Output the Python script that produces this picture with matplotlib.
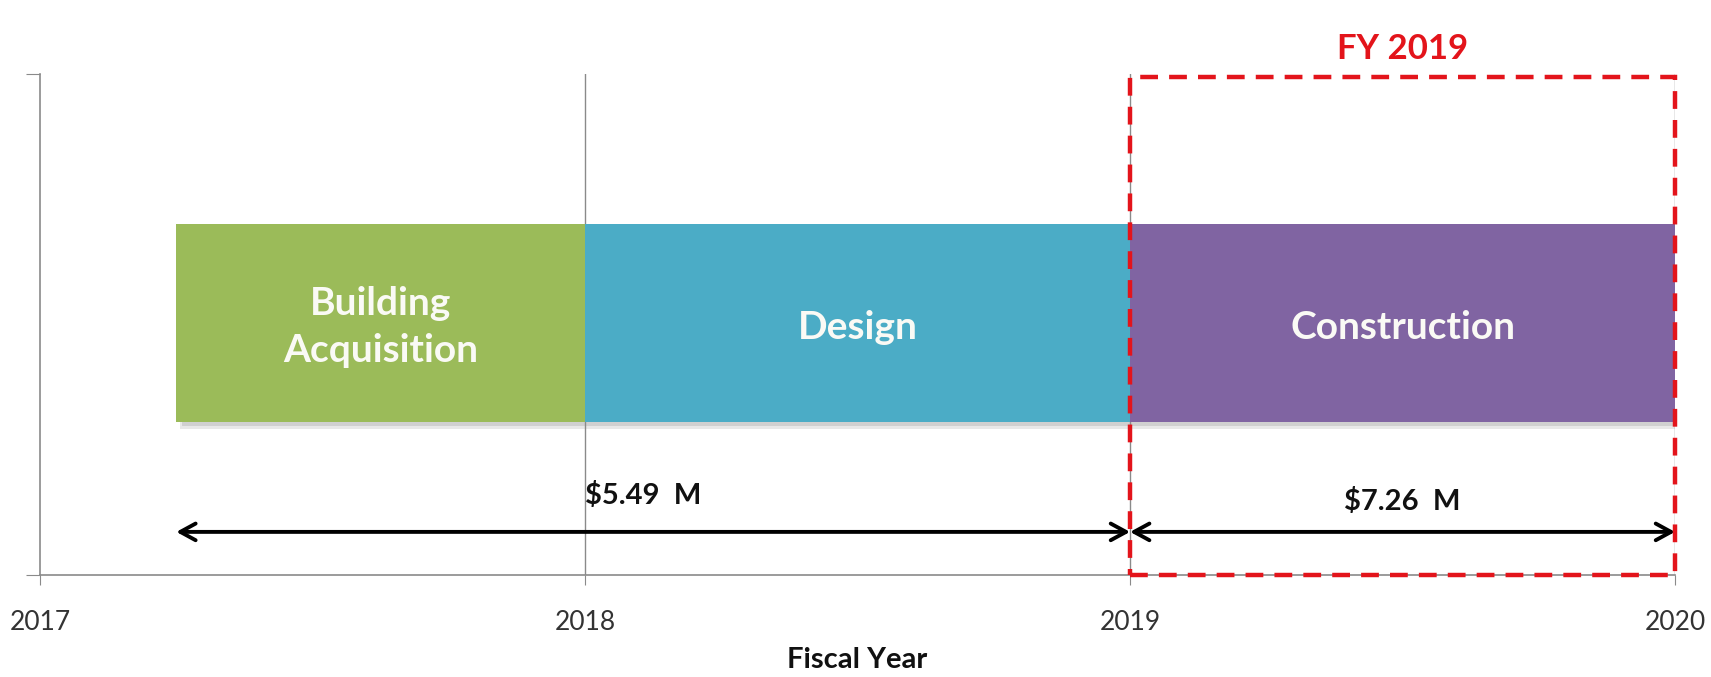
import matplotlib
matplotlib.use("Agg")
import matplotlib.pyplot as plt
import matplotlib.patheffects as pe
from matplotlib.patches import Rectangle

plt.rcParams['font.family'] = ['Lato', 'DejaVu Sans']

# Data
phases = ["Building\nAcquisition", "Design", "Construction"]
phase_start = [2017.25, 2018.0, 2019.0]
phase_end = [2018.0, 2019.0, 2020.0]
phase_colors = ["#9BBB59", "#4BACC6", "#8064A2"]

cost_labels = ["$5.49  M", "$7.26  M"]
cost_start = [2017.25, 2019.0]
cost_end = [2019.0, 2020.0]

years = [2017, 2018, 2019, 2020]
highlight_label = "FY 2019"
highlight_start = 2019
highlight_end = 2020

fig = plt.figure(figsize=(17.11, 6.77), dpi=100)
ax = fig.add_axes([0.0234, 0.1507, 0.9556, 0.74])
ax.set_xlim(2017, 2020)
ax.set_ylim(0, 1)

# gridlines
for yr in years[1:]:
    ax.axvline(yr, color="#8a8a8a", lw=1.0, zorder=0)

# bars
bar_y = 0.5025
bar_h = 0.395
shadow = [pe.SimplePatchShadow(offset=(4, -3), shadow_rgbFace="#8c8c8c", alpha=0.25),
          pe.SimplePatchShadow(offset=(3, -5), shadow_rgbFace="#8c8c8c", alpha=0.2),
          pe.Normal()]
for name, s, e, c in zip(phases, phase_start, phase_end, phase_colors):
    ax.barh(bar_y, e - s, left=s, height=bar_h, color=c, zorder=2, path_effects=shadow)
    ax.text((s + e) / 2, bar_y - 0.008, name, ha="center", va="center", color="#FAFAF5",
            fontsize=28, fontweight="bold", linespacing=1.4, zorder=4)

# cost arrows
cost_text_x = [2018.0, 2019.5]
cost_text_ha = ["left", "center"]
cost_text_y = [0.158, 0.146]
for lab, s, e, tx, ty, ha in zip(cost_labels, cost_start, cost_end, cost_text_x, cost_text_y, cost_text_ha):
    ax.annotate("", xy=(s, 0.086), xytext=(e, 0.086),
                arrowprops=dict(arrowstyle="<->,head_length=0.55,head_width=0.3", color="black", lw=2.8,
                                mutation_scale=20, shrinkA=0, shrinkB=0), zorder=5)
    ax.text(tx, ty, lab, ha=ha, va="center", fontsize=21, fontweight="bold",
            color="#111111", zorder=5)

# highlight box
rect = Rectangle((highlight_start, 0.0), highlight_end - highlight_start, 0.995,
                 fill=False, edgecolor="#E3141B", lw=3.2, linestyle=(0, (4, 2.5)),
                 zorder=6, clip_on=False)
ax.add_patch(rect)
ax.text((highlight_start + highlight_end) / 2, 1.05, highlight_label, ha="center",
        va="center", color="#E3141B", fontsize=25, fontweight="bold")

# axes styling
for sp in ["top", "right"]:
    ax.spines[sp].set_visible(False)
for sp in ["left", "bottom"]:
    ax.spines[sp].set_color("#8a8a8a")
    ax.spines[sp].set_linewidth(1.2)
ax.set_xticks(years)
ax.set_xticklabels([str(y) for y in years])
ax.set_yticks([0, 1])
ax.set_yticklabels([])
ax.tick_params(axis="x", length=7, color="#8a8a8a", labelsize=19, labelcolor="#333333", pad=18)
ax.tick_params(axis="y", length=10, color="#8a8a8a")
ax.set_xlabel("Fiscal Year", fontsize=21, fontweight="bold", color="#111111", va="center")
ax.xaxis.set_label_coords(0.5, -0.17)

fig.savefig("out.png", dpi=100)
